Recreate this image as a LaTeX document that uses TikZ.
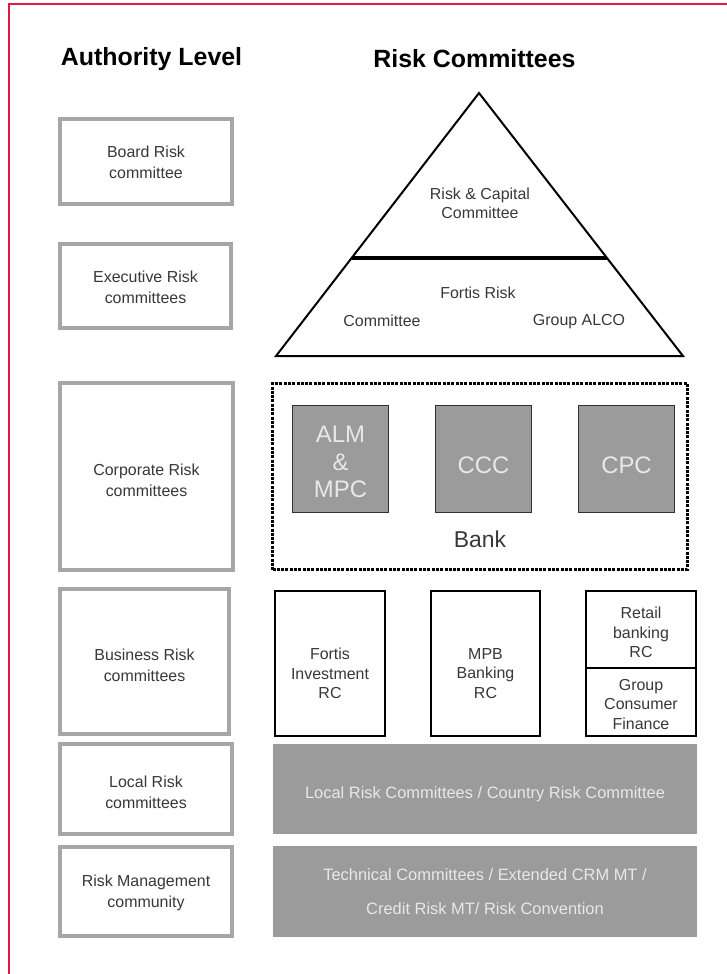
\documentclass[tikz,border=0pt]{standalone}
\usepackage{fontspec}
\setmainfont{Liberation Sans}
\usetikzlibrary{calc}
\definecolor{framered}{RGB}{228,22,66}
\definecolor{boxgray}{RGB}{166,166,166}
\definecolor{fillgray}{RGB}{155,155,156}
\definecolor{txtdark}{RGB}{55,55,60}
\definecolor{txtlight}{RGB}{232,232,232}
\definecolor{sqborder}{RGB}{50,50,50}
\tikzset{
  lbox/.style 2 args={draw=boxgray, line width=4bp, fill=white, inner sep=0pt,
    minimum width=#1bp, minimum height=#2bp},
  ltext/.style={align=center, text=txtdark, font=\fontsize{16}{21}\selectfont, inner sep=0pt},
  title/.style={font=\fontsize{25}{30}\selectfont\bfseries, text=black, inner sep=0pt},
  tritext/.style={font=\fontsize{16}{19}\selectfont, text=txtdark, align=center, inner sep=0pt},
  sqbox/.style={draw=sqborder, line width=1bp, fill=fillgray, inner sep=0pt,
    minimum width=96bp, minimum height=107bp},
  sqtext/.style={text=txtlight, align=center, font=\fontsize{24}{27.5}\selectfont, inner sep=0pt},
  bbox/.style 2 args={draw=black, line width=1.1bp, fill=white, inner sep=0pt,
    minimum width=#1bp, minimum height=#2bp},
  btext/.style={align=center, text=txtdark, font=\fontsize{16}{19.5}\selectfont, inner sep=0pt},
  band/.style={fill=fillgray, inner sep=0pt, minimum width=424bp},
  bandtext/.style={text=txtlight, align=center, inner sep=0pt, font=\fontsize{16.5}{34}\selectfont},
}
\begin{document}
\begin{tikzpicture}[x=1bp, y=-1bp]
\useasboundingbox (0,0) rectangle (727,974);
% frame
\draw[framered, line width=2bp] (9,974) -- (9,4) -- (727,4);
% titles
\node[title] (tAuth) at (151.5,59) {Authority Level};
\node[title] (tRisk) at (474.5,59) {Risk Committees};
% left column
\node[lbox={172}{85}, label={[ltext, yshift=-0.5bp]center:Board Risk\\committee}] (board) at (146,161.5) {};
\node[lbox={171}{84}, label={[ltext, yshift=-1bp]center:Executive Risk\\committees}] (exec) at (145.5,286) {};
\node[lbox={173}{187}, label={[ltext, yshift=-4bp]center:Corporate Risk\\committees}] (corp) at (146.5,476.5) {};
\node[lbox={169}{145}, label={[ltext, yshift=-4bp]center:Business Risk\\committees}] (bus) at (144.5,661.5) {};
\node[lbox={172}{90}, label={[ltext, yshift=-3bp]center:Local Risk\\committees}] (local) at (146,789) {};
\node[lbox={172}{89}, label={[ltext, yshift=-1bp]center:Risk Management\\community}] (rmc) at (146,891.5) {};
% pyramid
\coordinate (apex) at (479,93);
\coordinate (bl) at (276,356);
\coordinate (br) at (683,356);
\coordinate (dl) at ($(apex)!0.627!(bl)$);
\coordinate (dr) at ($(apex)!0.627!(br)$);
\draw[line width=2bp, line join=miter] (apex) -- (br) -- (bl) -- cycle;
\draw[line width=3.2bp] (dl) -- (dr);
\node[tritext] (rcc) at (480,203) {Risk \& Capital\\Committee};
\node[tritext] (frisk) at (478,293) {Fortis Risk};
\node[tritext] (fcomm) at (382,321) {Committee};
\node[tritext] (alco) at (579,322) {Group ALCO};
% bank dotted box
\node[draw=black, line width=3.6bp, dash pattern=on 3bp off 1.3bp,
  minimum width=415bp, minimum height=186bp, inner sep=0pt] (bank) at (480,476.5) {};
\node[sqbox, label={[sqtext, yshift=-3bp]center:ALM\\\&\\MPC}] (alm) at (340.5,459) {};
\node[sqbox, label={[sqtext, yshift=-6bp]center:CCC}] (ccc) at (483.5,459) {};
\node[sqbox, label={[sqtext, yshift=-6bp]center:CPC}] (cpc) at (626.5,459) {};
\node[font=\fontsize{23}{27}\selectfont, text=txtdark, inner sep=0pt] (banklbl) at (480,539) {Bank};
% business row
\node[bbox={110}{145}, label={[btext, yshift=-10bp]center:Fortis\\Investment\\RC}] (fortis) at (330,663.5) {};
\node[bbox={109}{145}, label={[btext, yshift=-10bp]center:MPB\\Banking\\RC}] (mpb) at (485.5,663.5) {};
\node[bbox={110}{77}, label={[btext, yshift=-3bp]center:Retail\\banking\\RC}] (retail) at (641,629.5) {};
\node[bbox={110}{68}, label={[btext, yshift=-2.5bp]center:Group\\Consumer\\Finance}] (gcf) at (641,702) {};
% bands
\node[band, minimum height=90bp, label={[bandtext, yshift=-5bp]center:Local Risk Committees / Country Risk Committee}] (localband) at (485,789) {};
\node[band, minimum height=91bp, label={[bandtext]center:Technical Committees / Extended CRM MT /\\Credit Risk MT/ Risk Convention}] (techband) at (485,891.5) {};
\end{tikzpicture}
\end{document}
